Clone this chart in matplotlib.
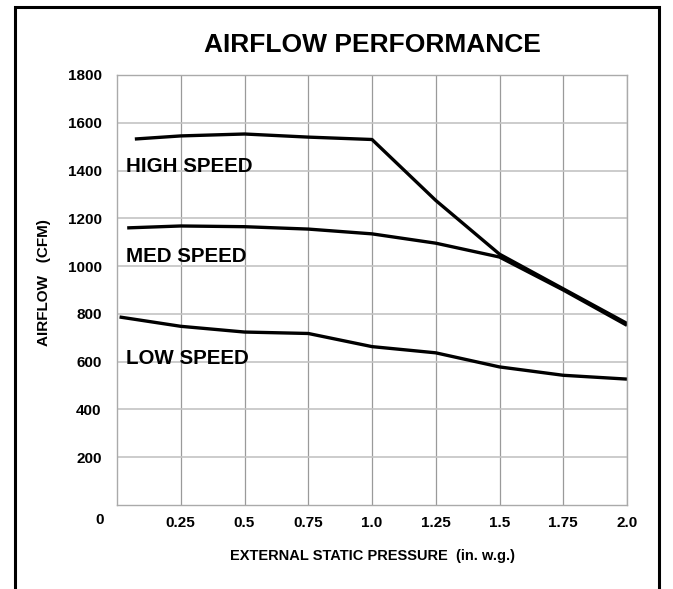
import matplotlib
matplotlib.use("Agg")
import matplotlib.pyplot as plt
from matplotlib.patches import Rectangle
from matplotlib.transforms import blended_transform_factory

plt.rcParams['font.family'] = ['Liberation Sans', 'DejaVu Sans']
plt.rcParams['font.weight'] = 'bold'

# data
high_x = [0.07, 0.25, 0.5, 0.75, 1.0, 1.25, 1.5, 1.75, 2.0]
high_y = [1532, 1545, 1553, 1540, 1530, 1275, 1050, 905, 760]
med_x = [0.04, 0.25, 0.5, 0.75, 1.0, 1.25, 1.5, 1.75, 2.0]
med_y = [1160, 1168, 1165, 1155, 1135, 1096, 1038, 900, 752]
low_x = [0.01, 0.25, 0.5, 0.75, 1.0, 1.25, 1.5, 1.75, 2.0]
low_y = [787, 748, 724, 718, 663, 637, 578, 543, 527]

x_ticks = [0.25, 0.5, 0.75, 1.0, 1.25, 1.5, 1.75, 2.0]
x_labels = ["0.25", "0.5", "0.75", "1.0", "1.25", "1.5", "1.75", "2.0"]
y_ticks = [200, 400, 600, 800, 1000, 1200, 1400, 1600, 1800]

series_labels = ["HIGH SPEED", "MED SPEED", "LOW SPEED"]
label_y = [1415, 1040, 612]

fig = plt.figure(figsize=(6.73, 5.89), dpi=100)
ax = fig.add_axes([117/673, 1 - 505/589, 510/673, 430/589])

ax.plot(high_x, high_y, color='black', lw=2.4, solid_capstyle='butt')
ax.plot(med_x, med_y, color='black', lw=2.4, solid_capstyle='butt')
ax.plot(low_x, low_y, color='black', lw=2.4, solid_capstyle='butt')

for lab, yy in zip(series_labels, label_y):
	ax.text(0.035, yy, lab, fontsize=14.8, fontweight='bold', va='center', ha='left')

ax.set_xlim(0, 2.0)
ax.set_ylim(0, 1800)
ax.set_xticks(x_ticks)
ax.set_xticklabels(x_labels)
ax.set_yticks(y_ticks)
ax.tick_params(length=0, labelsize=11)
ax.tick_params(axis='y', pad=11)
ax.tick_params(axis='x', pad=8)
ax.grid(True, axis='x', color='#9a9a9a', lw=0.9)
ax.grid(True, axis='y', color='#c4c4c4', lw=1.2)
for s in ax.spines.values():
	s.set_color('#aaaaaa')
	s.set_linewidth(1.0)

# the "0" label sits left of the axis
tr = blended_transform_factory(ax.transAxes, ax.transAxes)
ax.text(-13/510, -8/430, "0", transform=tr, ha='right', va='top', fontsize=11, fontweight='bold')

fig.text(372/673, 1 - 45/589, "AIRFLOW PERFORMANCE", ha='center', va='center', fontsize=19, fontweight='bold')
fig.text(373/673, 1 - 556/589, "EXTERNAL STATIC PRESSURE  (in. w.g.)", ha='center', va='center', fontsize=10.5, fontweight='bold')
fig.text(44/673, 1 - 283/589, "AIRFLOW   (CFM)", ha='center', va='center', rotation=90, fontsize=11, fontweight='bold')

# frame round the figure
fig.patches.append(Rectangle((15/673, -0.05), 644/673, 1.05 - 7/589, transform=fig.transFigure,
	fill=False, edgecolor='black', lw=2.2))

fig.savefig("out.png", dpi=100, facecolor='white')
